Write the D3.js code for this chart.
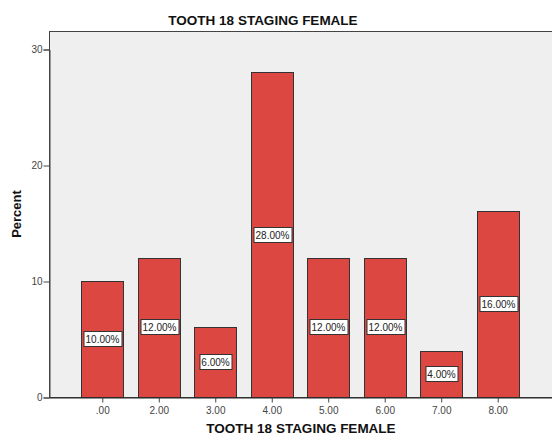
<!DOCTYPE html>
<html>
<head>
<meta charset="utf-8">
<script src="https://cdn.jsdelivr.net/npm/d3@7"></script>
<style>
  html, body { margin: 0; padding: 0; background: #fff; }
  svg { display: block; font-family: "Liberation Sans", Arial, sans-serif; }
</style>
</head>
<body>
<svg id="chart" width="552" height="436"></svg>
<script>
// Stage categories and their share of cases (percent)
const categories = [".00", "2.00", "3.00", "4.00", "5.00", "6.00", "7.00", "8.00"];
const percents = [10, 12, 6, 28, 12, 12, 4, 16];
const yTicks = [0, 10, 20, 30];
const chartTitle = "TOOTH 18 STAGING FEMALE";
const xTitle = "TOOTH 18 STAGING FEMALE";
const yTitle = "Percent";

const svg = d3.select("#chart");
const plot = { left: 49, right: 553, top: 31, bottom: 397 };

const x = d3.scaleBand()
  .domain(categories)
  .range([plot.left, 551])
  .paddingInner(0.257)
  .paddingOuter(0.572);

const y = d3.scaleLinear()
  .domain([0, 30])
  .range([plot.bottom, 49]);

// Plot background
svg.append("rect")
  .attr("x", plot.left + 0.5).attr("y", plot.top + 0.5)
  .attr("width", plot.right - plot.left).attr("height", plot.bottom - plot.top)
  .attr("fill", "#efefef")
  .attr("stroke", "#444").attr("stroke-width", 1);

// Bars
const data = categories.map((c, i) => ({ cat: c, val: percents[i] }));
svg.append("g").selectAll("rect")
  .data(data).join("rect")
  .attr("x", d => Math.round(x(d.cat)) + 0.5)
  .attr("y", d => Math.round(y(d.val)) + 0.5)
  .attr("width", Math.round(x.bandwidth()))
  .attr("height", d => Math.round(y(0)) - Math.round(y(d.val)))
  .attr("fill", "#dc4741")
  .attr("stroke", "#333")
  .attr("stroke-width", 1);

// Value labels in white boxes at bar mid-height
const labels = svg.append("g").selectAll("g")
  .data(data).join("g")
  .attr("transform", d => `translate(${Math.round(x(d.cat) + x.bandwidth() / 2) + 0.5},${Math.round(y(d.val / 2))})`);
labels.append("text")
  .attr("text-anchor", "middle")
  .attr("dy", "0.35em")
  .attr("font-size", 10)
  .attr("fill", "#222")
  .text(d => d.val.toFixed(2) + "%");
labels.each(function () {
  const g = d3.select(this);
  const bb = g.select("text").node().getBBox();
  g.insert("rect", "text")
    .attr("x", Math.round(bb.x - 2) + 0.5)
    .attr("y", -7.5)
    .attr("width", Math.round(bb.width + 4))
    .attr("height", 15)
    .attr("fill", "#fff")
    .attr("stroke", "#333")
    .attr("stroke-width", 1);
});

// Y axis
const yAxis = svg.append("g")
  .attr("transform", `translate(${plot.left + 0.5},0.5)`)
  .call(d3.axisLeft(y).tickValues(yTicks).tickSize(6).tickPadding(1).tickFormat(d3.format("d")));
yAxis.select(".domain").attr("stroke", "#444");
yAxis.selectAll(".tick line").attr("stroke", "#444");
yAxis.selectAll(".tick text").attr("font-size", 10).attr("fill", "#444").attr("font-family", "Liberation Sans, Arial, sans-serif");

// X axis
const xAxis = svg.append("g")
  .attr("transform", `translate(0.5,${plot.bottom + 0.5})`)
  .call(d3.axisBottom(x).tickSize(5).tickSizeOuter(0).tickPadding(4));
xAxis.select(".domain").attr("stroke", "#222");
xAxis.selectAll(".tick line").attr("stroke", "#444");
xAxis.selectAll(".tick text").attr("font-size", 10).attr("fill", "#444").attr("font-family", "Liberation Sans, Arial, sans-serif");

// Titles
svg.append("text")
  .attr("x", 263).attr("y", 25)
  .attr("text-anchor", "middle")
  .attr("font-size", 13.5).attr("font-weight", "bold").attr("fill", "#111")
  .text(chartTitle);

svg.append("text")
  .attr("x", 301).attr("y", 433)
  .attr("text-anchor", "middle")
  .attr("font-size", 13.5).attr("font-weight", "bold").attr("fill", "#111")
  .text(xTitle);

svg.append("text")
  .attr("transform", "translate(20.5,214) rotate(-90)")
  .attr("text-anchor", "middle")
  .attr("font-size", 13).attr("font-weight", "bold").attr("fill", "#111")
  .text(yTitle);
</script>
</body>
</html>
